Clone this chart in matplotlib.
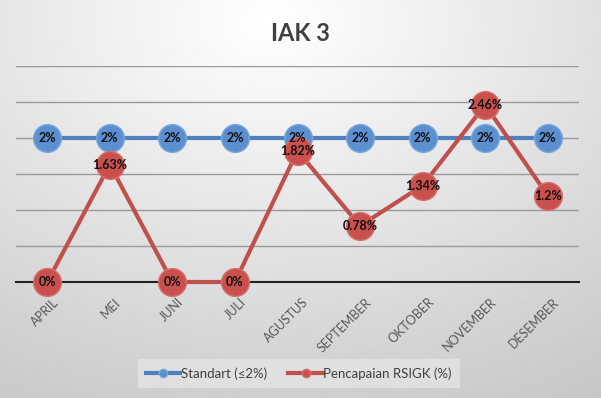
import matplotlib.pyplot as plt
import matplotlib.transforms as mtransforms
import numpy as np

months = ['APRIL', 'MEI', 'JUNI', 'JULI', 'AGUSTUS', 'SEPTEMBER', 'OKTOBER', 'NOVEMBER', 'DESEMBER']
standart = [2, 2, 2, 2, 2, 2, 2, 2, 2]
pencapaian = [0, 1.63, 0, 0, 1.82, 0.78, 1.34, 2.46, 1.2]
pencapaian_labels = ['0%', '1.63%', '0%', '0%', '1.82%', '0.78%', '1.34%', '2.46%', '1.2%']

plt.rcParams['font.family'] = ['Lato', 'DejaVu Sans']

fig = plt.figure(figsize=(6.01, 3.98), dpi=100)

# grey-white background gradient
bg = fig.add_axes([0, 0, 1, 1], zorder=-10)
yy, xx = np.mgrid[0:1:200j, 0:1:300j]
r = np.sqrt((xx - 0.45) ** 2 + ((yy - 0.05) * 0.9) ** 2)
bg.imshow(1 - 0.22 * np.clip(r, 0, 1.2), cmap='gray', vmin=0, vmax=1,
          extent=[0, 1, 0, 1], aspect='auto', origin='upper')
bg.axis('off')

ax = fig.add_axes([16 / 601, 116 / 398, 563 / 601, 216 / 398])
ax.set_facecolor('none')
x = np.arange(len(months))

blue = '#4f81bd'
red = '#c0504d'

ax.plot(x, standart, color=blue, lw=3, marker='o', ms=20, mfc='#5b8fd0',
        mec='#7aa7dd', mew=1, zorder=3, clip_on=False, label='Standart (≤2%)')
ax.plot(x, pencapaian, color=red, lw=3, marker='o', ms=20, mfc='#c9504d',
        mec='#d66f6c', mew=1, zorder=4, clip_on=False, label='Pencapaian RSIGK (%)')

for xi, v in zip(x, standart):
    ax.text(xi, v, f'{v}%', ha='center', va='center', fontsize=9,
            fontweight='bold', color='#111111', zorder=5)
for xi, v, lab in zip(x, pencapaian, pencapaian_labels):
    ax.text(xi, v, lab, ha='center', va='center', fontsize=9,
            fontweight='bold', color='#111111', zorder=6)

ax.set_xlim(-0.5, len(months) - 0.5)
ax.set_ylim(0, 3)
ax.set_yticks(np.arange(0, 3.01, 0.5))
ax.yaxis.grid(True, color='#9a9a9a', lw=1)
ax.tick_params(axis='y', left=False, labelleft=False)
ax.tick_params(axis='x', length=0, pad=10)
ax.set_xticks(x)
ax.set_xticklabels(months, rotation=45, ha='right', rotation_mode='anchor',
                   fontsize=9, color='#595959')
shift = mtransforms.ScaledTranslation(5 / 100, 0, fig.dpi_scale_trans)
for lbl in ax.get_xticklabels():
    lbl.set_transform(lbl.get_transform() + shift)
for s in ['top', 'right', 'left']:
    ax.spines[s].set_visible(False)
ax.spines['bottom'].set_color('#222222')
ax.spines['bottom'].set_linewidth(1.5)
ax.spines['bottom'].set_zorder(2)
ax.set_axisbelow(True)

fig.text(0.5, 0.915, 'IAK 3', ha='center', va='center', fontsize=17,
         fontweight='bold', color='#404040')

handles, labels = ax.get_legend_handles_labels()
leg = fig.legend(handles, labels, loc='center', bbox_to_anchor=(0.4975, 0.062),
                 ncol=2, fontsize=9.5, frameon=True, fancybox=False,
                 markerscale=0.3, handlelength=2.6, handletextpad=0.05,
                 columnspacing=1.6, borderpad=0.6, borderaxespad=0)
leg.get_frame().set_facecolor('#e4e4e4')
leg.get_frame().set_edgecolor('none')
for t in leg.get_texts():
    t.set_color('#404040')

fig.savefig('out.png', dpi=100)
